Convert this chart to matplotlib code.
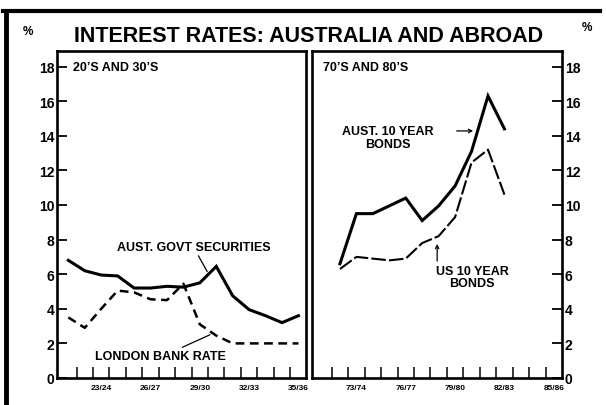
import numpy as np
import matplotlib
matplotlib.use('Agg')
import matplotlib.pyplot as plt
from matplotlib.lines import Line2D

plt.rcParams['font.family'] = ['Liberation Sans', 'DejaVu Sans']
plt.rcParams['font.weight'] = 'bold'

# Dữ liệu: 20's and 30's
left_years = ['21/22', '22/23', '23/24', '24/25', '25/26', '26/27', '27/28', '28/29',
              '29/30', '30/31', '31/32', '32/33', '33/34', '34/35', '35/36']
aust_govt = [6.8, 6.2, 5.95, 5.9, 5.2, 5.2, 5.3, 5.25, 5.5, 6.45, 4.75, 3.95, 3.6, 3.2, 3.6]
london_rate = [3.5, 2.9, 4.0, 5.05, 4.95, 4.55, 4.5, 5.45, 3.1, 2.45, 2.0, 2.0, 2.0, 2.0, 2.0]
left_labels = ['23/24', '26/27', '29/30', '32/33', '35/36']

# Dữ liệu: 70's and 80's
right_years = ['72/73', '73/74', '74/75', '75/76', '76/77', '77/78', '78/79', '79/80',
               '80/81', '81/82', '82/83']
aust_10yr = [6.6, 9.5, 9.5, 9.95, 10.4, 9.1, 9.95, 11.1, 13.1, 16.3, 14.4]
us_10yr = [6.3, 7.0, 6.9, 6.8, 6.9, 7.8, 8.2, 9.3, 12.45, 13.2, 10.6]
right_labels = ['73/74', '76/77', '79/80', '82/83', '85/86']

y_ticks = np.arange(0, 19, 2)

W, H = 606, 406
fig = plt.figure(figsize=(W / 100, H / 100), dpi=100)


def px_axes(x0, x1, y_top, y_bot):
    return fig.add_axes([x0 / W, 1 - y_bot / H, (x1 - x0) / W, (y_bot - y_top) / H])


def style_axes(ax):
    for s in ax.spines.values():
        s.set_linewidth(1.9)
    ax.set_ylim(0, 18.9)
    ax.set_yticks(y_ticks)
    ax.tick_params(axis='y', direction='in', length=7, width=1.3, labelsize=10, pad=2)
    ax.tick_params(axis='x', which='major', length=0, labelsize=6, pad=4)
    ax.tick_params(axis='x', which='minor', direction='in', length=8, width=1.1)
    for lab in ax.get_xticklabels() + ax.get_yticklabels():
        lab.set_fontweight('bold')


# Bảng trái
ax1 = px_axes(57, 306, 52, 379)
x1 = np.arange(len(left_years))
ax1.plot(x1, aust_govt, color='black', lw=2.2, solid_joinstyle='miter')
ax1.plot(x1, london_rate, color='black', lw=1.8, dashes=(3.5, 2.2))
ax1.set_xlim(-0.69, 14.46)
ax1.set_xticks([left_years.index(l) for l in left_labels])
ax1.set_xticklabels(left_labels)
ax1.set_xticks(np.arange(len(left_years) - 1) + 0.5, minor=True)
style_axes(ax1)
ax1.text(0.064, 0.951, '20\u2019S AND 30\u2019S', transform=ax1.transAxes,
         fontsize=9, fontweight='bold', va='center', ha='left')
ax1.annotate('AUST. GOVT SECURITIES', xy=(8.45, 6.15), xytext=(2.96, 7.57),
             fontsize=9, fontweight='bold', va='center', ha='left',
             arrowprops=dict(arrowstyle='-', color='black', lw=0.9,
                             shrinkA=0, shrinkB=0, relpos=(0.52, 0.0)))
ax1.annotate('LONDON BANK RATE', xy=(8.62, 2.5), xytext=(1.63, 1.27),
             fontsize=9, fontweight='bold', va='center', ha='left',
             arrowprops=dict(arrowstyle='-', color='black', lw=0.9,
                             shrinkA=0, shrinkB=0, relpos=(0.62, 1.0)))

# Bảng phải
ax2 = px_axes(312, 562, 52, 379)
x2 = np.arange(len(right_years))
ax2.plot(x2, aust_10yr, color='black', lw=2.2, solid_joinstyle='miter')
ax2.plot(x2, us_10yr, color='black', lw=1.5, dashes=(7, 1.5))
ax2.set_xlim(-1.7, 13.5)
ax2.set_xticks([1, 4, 7, 10, 13])
ax2.set_xticklabels(right_labels)
ax2.set_xticks(np.arange(14) - 0.5, minor=True)
ax2.yaxis.tick_right()
style_axes(ax2)
ax2.text(0.044, 0.951, '70\u2019S AND 80\u2019S', transform=ax2.transAxes,
         fontsize=9, fontweight='bold', va='center', ha='left')
ax2.text(2.93, 13.9, 'AUST. 10 YEAR\nBONDS', fontsize=9, fontweight='bold',
         ha='center', va='center', linespacing=1.05)
ax2.annotate('', xy=(8.1, 14.28), xytext=(7.1, 14.28),
             arrowprops=dict(arrowstyle='->', color='black', lw=0.9,
                             shrinkA=0, shrinkB=0, mutation_scale=6))
ax2.text(8.05, 5.84, 'US 10 YEAR\nBONDS', fontsize=9, fontweight='bold',
         ha='center', va='center', linespacing=1.05)
ax2.annotate('', xy=(5.91, 7.75), xytext=(5.91, 6.76),
             arrowprops=dict(arrowstyle='->', color='black', lw=0.9,
                             shrinkA=0, shrinkB=0, mutation_scale=6))

# Tiêu đề và khung
fig.text(309 / W, 1 - 36 / H, 'INTEREST RATES: AUSTRALIA AND ABROAD',
         fontsize=15.5, fontweight='bold', ha='center', va='center')
fig.text(28 / W, 1 - 32 / H, '%', fontsize=8.5, fontweight='bold', ha='center', va='center')
fig.text(587 / W, 1 - 28 / H, '%', fontsize=8.5, fontweight='bold', ha='center', va='center')
fig.add_artist(Line2D([3 / W, 600 / W], [1 - 12 / H, 1 - 12 / H],
                      transform=fig.transFigure, color='black', lw=3))
fig.add_artist(Line2D([5.5 / W, 5.5 / W], [0, 1 - 12 / H],
                      transform=fig.transFigure, color='black', lw=3.5))

fig.savefig('out.png', dpi=100, facecolor='white')
